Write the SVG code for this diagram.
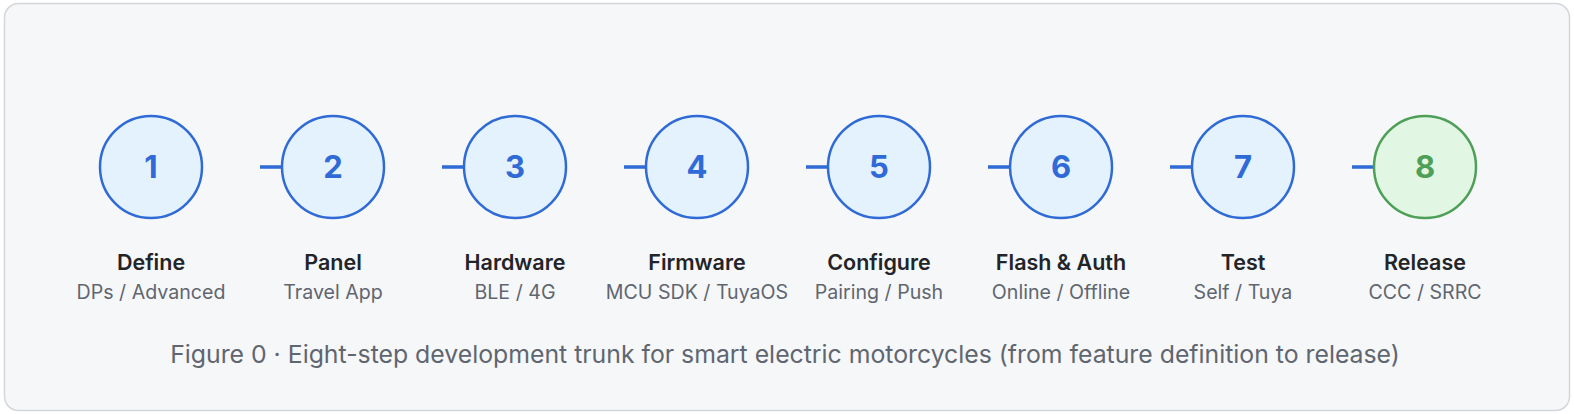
<svg xmlns="http://www.w3.org/2000/svg" width="1574" height="414" viewBox="0 0 1574 414">
<style>
.frame{fill:#f6f7f9;stroke:#d3d6db;stroke-width:1.5}
.c{fill:#e3f2fd;stroke:#2f6ad6;stroke-width:2.5}
.cg{fill:#e2f7e3;stroke:#4e9f57;stroke-width:2.5}
.n{font-family:Inter,"Liberation Sans",sans-serif;font-size:31px;font-weight:700;fill:#2f6ad6;text-anchor:middle}
.ng{fill:#4e9f57}
.t{font-family:Inter,"Liberation Sans",sans-serif;font-size:21.5px;font-weight:600;fill:#222428;text-anchor:middle}
.s{font-family:Inter,"Liberation Sans",sans-serif;font-size:19.6px;fill:#5f6670;text-anchor:middle}
.cap{font-family:Inter,"Liberation Sans",sans-serif;font-size:24.8px;fill:#5f6670;text-anchor:middle}
.ln{stroke:#2f6ad6;stroke-width:3.5;fill:none}
</style>
<rect class="frame" x="4.5" y="3.5" width="1565" height="407" rx="14"/>
<g id="connectors">
<line class="ln" x1="260" y1="167" x2="300" y2="167"/>
<line class="ln" x1="442" y1="167" x2="482" y2="167"/>
<line class="ln" x1="624" y1="167" x2="664" y2="167"/>
<line class="ln" x1="806" y1="167" x2="846" y2="167"/>
<line class="ln" x1="988" y1="167" x2="1028" y2="167"/>
<line class="ln" x1="1170" y1="167" x2="1210" y2="167"/>
<line class="ln" x1="1352" y1="167" x2="1392" y2="167"/>
</g>
<g id="n1"><circle class="c" cx="151" cy="167" r="51"/><text class="n" x="151" y="178">1</text><text class="t" x="151" y="270">Define</text><text class="s" x="151" y="299">DPs / Advanced</text></g>
<g id="n2"><circle class="c" cx="333" cy="167" r="51"/><text class="n" x="333" y="178">2</text><text class="t" x="333" y="270">Panel</text><text class="s" x="333" y="299">Travel App</text></g>
<g id="n3"><circle class="c" cx="515" cy="167" r="51"/><text class="n" x="515" y="178">3</text><text class="t" x="515" y="270">Hardware</text><text class="s" x="515" y="299">BLE / 4G</text></g>
<g id="n4"><circle class="c" cx="697" cy="167" r="51"/><text class="n" x="697" y="178">4</text><text class="t" x="697" y="270">Firmware</text><text class="s" x="697" y="299">MCU SDK / TuyaOS</text></g>
<g id="n5"><circle class="c" cx="879" cy="167" r="51"/><text class="n" x="879" y="178">5</text><text class="t" x="879" y="270">Configure</text><text class="s" x="879" y="299">Pairing / Push</text></g>
<g id="n6"><circle class="c" cx="1061" cy="167" r="51"/><text class="n" x="1061" y="178">6</text><text class="t" x="1061" y="270">Flash &amp; Auth</text><text class="s" x="1061" y="299">Online / Offline</text></g>
<g id="n7"><circle class="c" cx="1243" cy="167" r="51"/><text class="n" x="1243" y="178">7</text><text class="t" x="1243" y="270">Test</text><text class="s" x="1243" y="299">Self / Tuya</text></g>
<g id="n8"><circle class="cg" cx="1425" cy="167" r="51"/><text class="n ng" x="1425" y="178">8</text><text class="t" x="1425" y="270">Release</text><text class="s" x="1425" y="299">CCC / SRRC</text></g>
<text class="cap" x="785" y="363">Figure 0 · Eight-step development trunk for smart electric motorcycles (from feature definition to release)</text>
</svg>
